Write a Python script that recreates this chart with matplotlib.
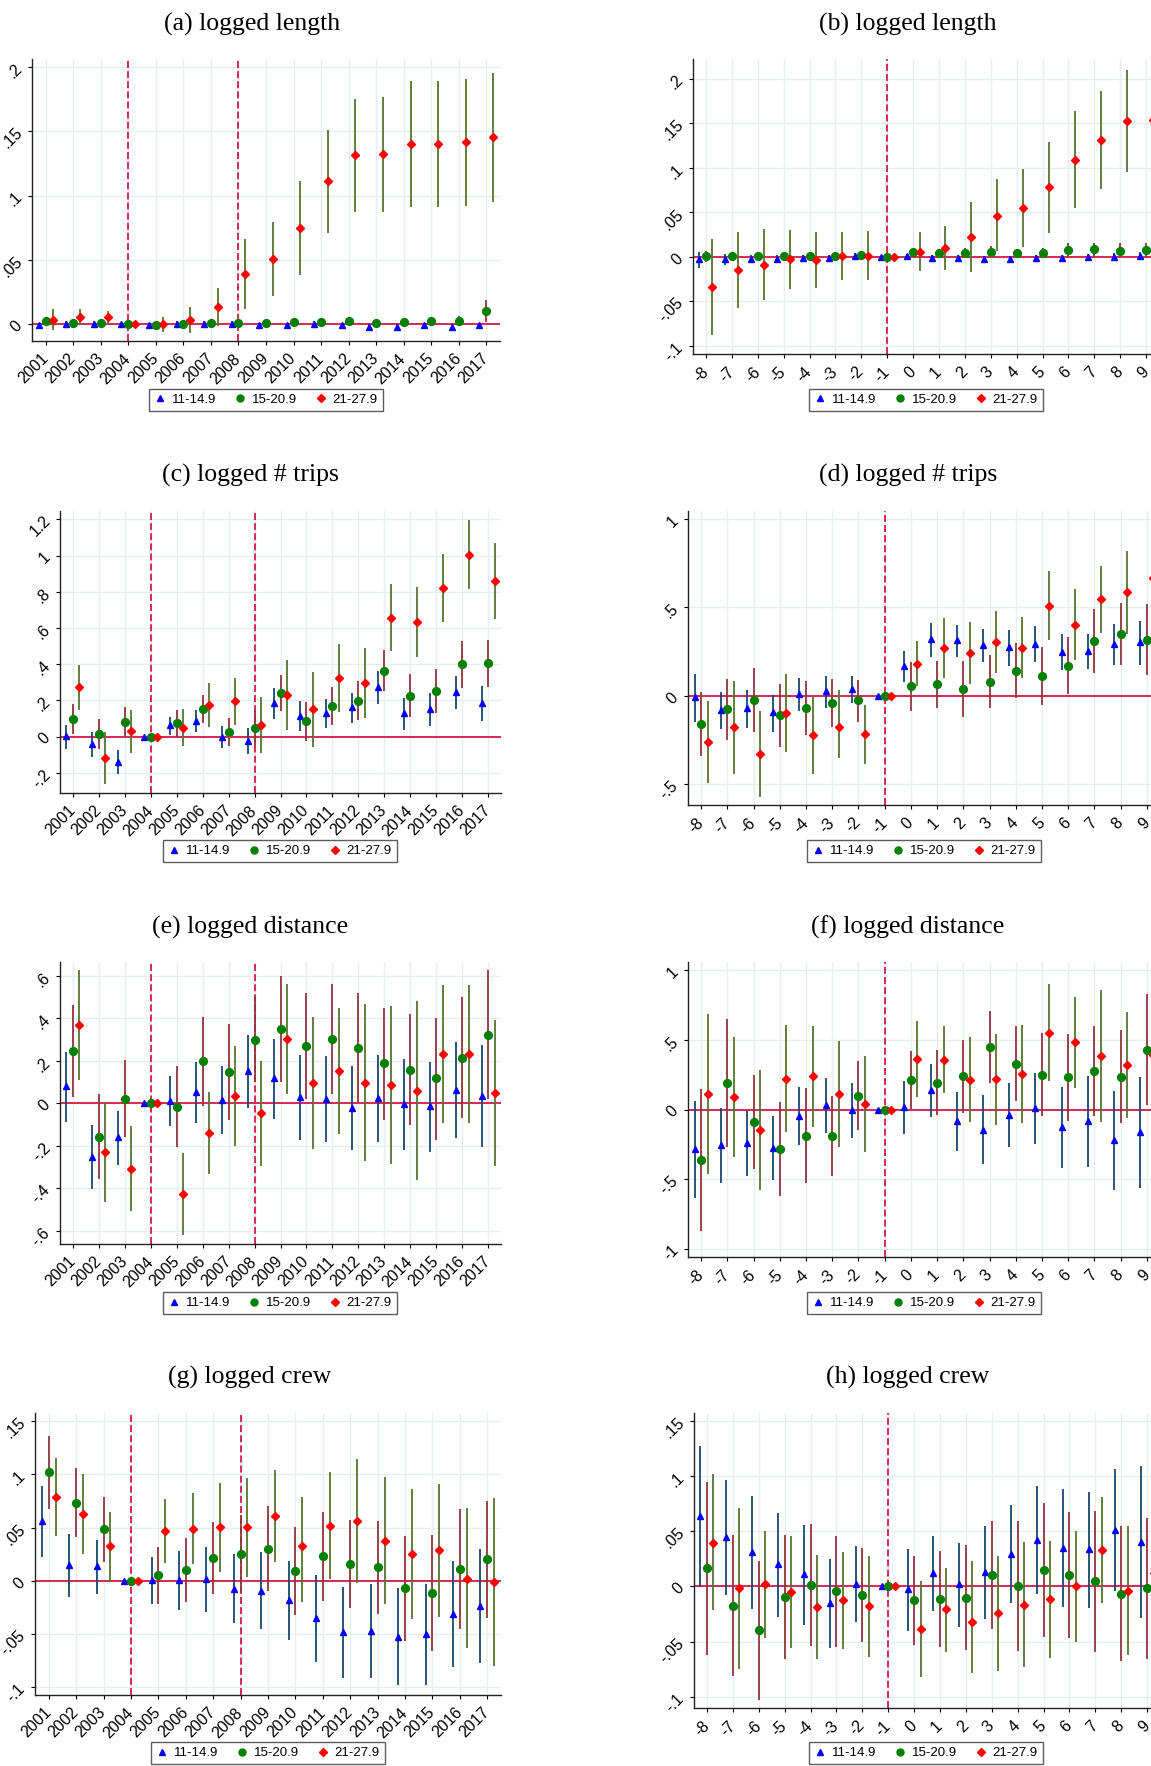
import numpy as np
import matplotlib
matplotlib.use("Agg")
import matplotlib.pyplot as plt
from matplotlib.ticker import FuncFormatter

plt.rcParams['font.family'] = ['Liberation Sans', 'DejaVu Sans']

# x axes
years = list(range(2001, 2018))
event = list(range(-8, 10))
year_labels = [str(y) for y in years]
event_labels = [str(e) for e in event]
series_names = ['11-14.9', '15-20.9', '21-27.9']

# (a) logged length, by year
a_s = [-0.001, 0.0, 0.0, 0.0, -0.001, 0.0, 0.0, 0.0, -0.001, -0.001, 0.0, -0.001, -0.002, -0.002, -0.001, -0.002, -0.001]
a_s_lo = [-0.003, -0.002, -0.002, 0.0, -0.003, -0.002, -0.002, -0.002, -0.003, -0.003, -0.002, -0.003, -0.004, -0.004, -0.003, -0.004, -0.003]
a_s_hi = [0.001, 0.002, 0.002, 0.0, 0.001, 0.002, 0.002, 0.002, 0.001, 0.001, 0.002, 0.001, 0.0, 0.0, 0.001, 0.0, 0.001]
a_m = [0.002, 0.0005, 0.001, 0.0, -0.001, 0.0, 0.001, 0.001, 0.001, 0.0015, 0.0015, 0.002, 0.0005, 0.0015, 0.002, 0.0025, 0.010]
a_m_lo = [-0.001, -0.002, -0.002, 0.0, -0.004, -0.003, -0.002, -0.002, -0.002, -0.001, -0.001, -0.001, -0.002, -0.002, -0.001, -0.001, 0.0015]
a_m_hi = [0.005, 0.003, 0.004, 0.0, 0.002, 0.003, 0.004, 0.004, 0.004, 0.004, 0.004, 0.005, 0.003, 0.005, 0.005, 0.006, 0.0187]
a_l = [0.003, 0.0055, 0.0055, 0.0, -0.0003, 0.003, 0.0133, 0.039, 0.0504, 0.0748, 0.1109, 0.1312, 0.132, 0.1403, 0.1403, 0.1416, 0.1455]
a_l_lo = [-0.005, 0.0, 0.0005, 0.0, -0.006, -0.0068, -0.0013, 0.0114, 0.0218, 0.0382, 0.0712, 0.0873, 0.0868, 0.0914, 0.091, 0.0922, 0.0951]
a_l_hi = [0.0114, 0.0114, 0.010, 0.0, 0.0052, 0.0133, 0.028, 0.0665, 0.079, 0.1114, 0.1506, 0.1753, 0.177, 0.1894, 0.1894, 0.191, 0.1956]

# (b) logged length, event time
b_s = [-0.002, -0.002, -0.002, -0.002, -0.0015, -0.001, 0.001, 0.0, 0.0004, -0.001, -0.001, -0.002, -0.002, -0.001, -0.001, 0.0, 0.0, 0.001]
b_s_lo = [-0.012, -0.009, -0.006, -0.006, -0.005, -0.004, -0.002, 0.0, -0.003, -0.004, -0.004, -0.005, -0.005, -0.004, -0.004, -0.003, -0.004, -0.004]
b_s_hi = [0.0056, 0.003, 0.002, 0.002, 0.002, 0.002, 0.004, 0.0, 0.003, 0.002, 0.002, 0.001, 0.001, 0.002, 0.002, 0.003, 0.004, 0.005]
b_m = [0.0004, 0.0015, 0.0015, 0.0015, 0.001, 0.001, 0.002, 0.0, 0.005, 0.004, 0.0045, 0.006, 0.004, 0.004, 0.0075, 0.0086, 0.007, 0.008]
b_m_lo = [-0.006, -0.003, -0.003, -0.003, -0.003, -0.003, -0.002, 0.0, 0.0, -0.001, -0.001, 0.0, -0.001, -0.001, 0.0, 0.0, 0.0, 0.0]
b_m_hi = [0.007, 0.006, 0.006, 0.006, 0.005, 0.005, 0.006, 0.0, 0.010, 0.009, 0.010, 0.012, 0.009, 0.010, 0.015, 0.016, 0.015, 0.016]
b_l = [-0.0337, -0.0146, -0.0086, -0.0026, -0.0034, 0.001, 0.001, 0.0, 0.006, 0.010, 0.0225, 0.0464, 0.0547, 0.0779, 0.1086, 0.1311, 0.152, 0.154]
b_l_lo = [-0.0876, -0.0577, -0.048, -0.0356, -0.0345, -0.026, -0.026, 0.0, -0.016, -0.0146, -0.0165, 0.0064, 0.0105, 0.0273, 0.0543, 0.0764, 0.0948, 0.095]
b_l_hi = [0.0199, 0.028, 0.031, 0.0303, 0.0277, 0.028, 0.0288, 0.0, 0.0277, 0.0348, 0.0618, 0.0873, 0.0989, 0.1288, 0.1633, 0.1858, 0.2094, 0.213]

# (c) logged # trips, by year
c_s = [0.004, -0.042, -0.138, 0.0, 0.064, 0.088, -0.004, -0.022, 0.186, 0.116, 0.129, 0.162, 0.272, 0.131, 0.151, 0.247, 0.186]
c_s_lo = [-0.068, -0.112, -0.206, 0.0, 0.009, 0.026, -0.063, -0.094, 0.098, 0.029, 0.048, 0.077, 0.180, 0.039, 0.057, 0.153, 0.088]
c_s_hi = [0.066, 0.024, -0.075, 0.0, 0.109, 0.145, 0.061, 0.048, 0.27, 0.195, 0.208, 0.243, 0.361, 0.215, 0.239, 0.337, 0.28]
c_m = [0.099, 0.015, 0.083, 0.0, 0.074, 0.153, 0.028, 0.05, 0.241, 0.085, 0.167, 0.199, 0.364, 0.226, 0.252, 0.399, 0.405]
c_m_lo = [0.015, -0.07, 0.0, 0.0, 0.0, 0.074, -0.052, -0.05, 0.144, -0.024, 0.063, 0.09, 0.252, 0.109, 0.132, 0.269, 0.274]
c_m_hi = [0.182, 0.098, 0.162, 0.0, 0.145, 0.232, 0.105, 0.14, 0.339, 0.193, 0.272, 0.309, 0.477, 0.344, 0.372, 0.530, 0.535]
c_l = [0.272, -0.118, 0.031, 0.0, 0.05, 0.175, 0.197, 0.066, 0.232, 0.151, 0.324, 0.296, 0.657, 0.631, 0.822, 1.005, 0.859]
c_l_lo = [0.147, -0.263, -0.092, 0.0, -0.052, 0.053, 0.066, -0.088, 0.039, -0.057, 0.136, 0.101, 0.473, 0.44, 0.635, 0.813, 0.651]
c_l_hi = [0.396, 0.026, 0.149, 0.0, 0.151, 0.296, 0.326, 0.221, 0.425, 0.355, 0.512, 0.491, 0.845, 0.824, 1.01, 1.198, 1.067]

# (d) logged # trips, event time
d_s = [-0.009, -0.079, -0.071, -0.094, 0.011, 0.028, 0.039, 0.0, 0.169, 0.32, 0.314, 0.289, 0.276, 0.295, 0.25, 0.254, 0.293, 0.305]
d_s_lo = [-0.147, -0.188, -0.184, -0.203, -0.083, -0.066, -0.043, 0.0, 0.079, 0.222, 0.222, 0.194, 0.171, 0.19, 0.147, 0.15, 0.177, 0.177]
d_s_hi = [0.122, 0.023, 0.032, 0.006, 0.1, 0.115, 0.113, 0.0, 0.254, 0.41, 0.4, 0.378, 0.372, 0.395, 0.35, 0.35, 0.406, 0.423]
d_m = [-0.16, -0.075, -0.023, -0.111, -0.07, -0.039, -0.026, 0.0, 0.055, 0.066, 0.038, 0.081, 0.143, 0.113, 0.169, 0.308, 0.35, 0.318]
d_m_lo = [-0.342, -0.248, -0.203, -0.288, -0.224, -0.175, -0.145, 0.0, -0.083, -0.071, -0.118, -0.07, -0.013, -0.051, 0.008, 0.128, 0.173, 0.117]
d_m_hi = [0.023, 0.098, 0.158, 0.068, 0.085, 0.096, 0.09, 0.0, 0.192, 0.197, 0.195, 0.233, 0.299, 0.276, 0.335, 0.492, 0.523, 0.517]
d_l = [-0.261, -0.177, -0.329, -0.096, -0.224, -0.177, -0.214, 0.0, 0.182, 0.271, 0.242, 0.303, 0.273, 0.509, 0.402, 0.545, 0.586, 0.664]
d_l_lo = [-0.491, -0.442, -0.571, -0.32, -0.442, -0.353, -0.383, 0.0, 0.055, 0.103, 0.066, 0.128, 0.1, 0.314, 0.201, 0.357, 0.35, 0.46]
d_l_hi = [-0.028, 0.085, -0.083, 0.126, -0.004, 0.034, -0.051, 0.0, 0.31, 0.44, 0.419, 0.477, 0.447, 0.707, 0.603, 0.733, 0.821, 0.87]

# (e) logged distance, by year
e_s = [0.08, -0.251, -0.16, 0.0, 0.013, 0.053, 0.014, 0.152, 0.119, 0.03, 0.02, -0.02, 0.023, -0.003, -0.014, 0.063, 0.036]
e_s_lo = [-0.086, -0.404, -0.29, 0.0, -0.105, -0.091, -0.146, -0.023, -0.075, -0.172, -0.183, -0.219, -0.182, -0.219, -0.227, -0.164, -0.207]
e_s_hi = [0.241, -0.102, -0.036, 0.0, 0.128, 0.193, 0.174, 0.323, 0.304, 0.226, 0.221, 0.174, 0.226, 0.21, 0.196, 0.29, 0.276]
e_m = [0.246, -0.157, 0.022, 0.0, -0.016, 0.197, 0.147, 0.298, 0.349, 0.269, 0.302, 0.262, 0.188, 0.158, 0.117, 0.215, 0.323]
e_m_lo = [0.031, -0.354, -0.157, 0.0, -0.207, -0.013, -0.078, 0.1, 0.102, 0.022, 0.044, 0.005, -0.078, -0.102, -0.172, -0.067, 0.022]
e_m_hi = [0.46, 0.042, 0.204, 0.0, 0.175, 0.407, 0.373, 0.5, 0.6, 0.517, 0.559, 0.52, 0.449, 0.418, 0.403, 0.498, 0.626]
e_l = [0.366, -0.229, -0.307, 0.0, -0.428, -0.141, 0.036, -0.047, 0.302, 0.094, 0.152, 0.097, 0.086, 0.06, 0.232, 0.232, 0.05]
e_l_lo = [0.11, -0.465, -0.507, 0.0, -0.62, -0.334, -0.199, -0.294, 0.044, -0.216, -0.144, -0.269, -0.285, -0.36, -0.091, -0.091, -0.293]
e_l_hi = [0.626, 0.008, -0.106, 0.0, -0.232, 0.052, 0.271, 0.197, 0.561, 0.404, 0.449, 0.467, 0.459, 0.481, 0.554, 0.556, 0.392]

# (f) logged distance, event time
f_s = [-0.287, -0.258, -0.239, -0.28, -0.048, 0.031, -0.007, 0.0, 0.017, 0.139, -0.084, -0.144, -0.038, 0.01, -0.127, -0.086, -0.22, -0.165]
f_s_lo = [-0.636, -0.529, -0.481, -0.51, -0.256, -0.17, -0.208, 0.0, -0.175, -0.055, -0.297, -0.395, -0.273, -0.246, -0.421, -0.414, -0.581, -0.565]
f_s_hi = [0.06, 0.01, -0.01, -0.05, 0.16, 0.227, 0.189, 0.0, 0.203, 0.328, 0.127, 0.105, 0.194, 0.263, 0.163, 0.239, 0.136, 0.234]
f_m = [-0.364, 0.194, -0.091, -0.282, -0.189, -0.191, 0.1, 0.0, 0.211, 0.194, 0.239, 0.45, 0.33, 0.251, 0.23, 0.275, 0.234, 0.428]
f_m_lo = [-0.876, -0.268, -0.428, -0.62, -0.531, -0.478, -0.148, 0.0, 0.002, -0.036, -0.022, 0.189, 0.06, -0.048, -0.084, -0.05, -0.098, 0.029]
f_m_hi = [0.146, 0.653, 0.246, 0.055, 0.156, 0.098, 0.349, 0.0, 0.421, 0.426, 0.502, 0.711, 0.6, 0.55, 0.541, 0.6, 0.572, 0.828]
f_l = [0.11, 0.091, -0.144, 0.218, 0.239, 0.11, 0.038, 0.0, 0.364, 0.359, 0.215, 0.218, 0.254, 0.553, 0.486, 0.383, 0.321, 0.39]
f_l_lo = [-0.464, -0.344, -0.577, -0.165, -0.124, -0.273, -0.306, 0.0, 0.093, 0.117, -0.089, -0.108, -0.098, 0.203, 0.158, -0.093, -0.06, 0.0]
f_l_hi = [0.684, 0.524, 0.287, 0.605, 0.603, 0.493, 0.385, 0.0, 0.636, 0.603, 0.522, 0.543, 0.605, 0.9, 0.811, 0.859, 0.703, 0.78]

# (g) logged crew, by year
g_s = [0.0561, 0.015, 0.0141, 0.0, 0.0006, 0.0006, 0.0013, -0.0072, -0.0091, -0.0182, -0.0348, -0.0483, -0.0467, -0.0524, -0.0502, -0.031, -0.0235]
g_s_lo = [0.0223, -0.0147, -0.0119, 0.0, -0.0219, -0.0276, -0.0295, -0.0398, -0.0455, -0.0552, -0.0759, -0.0909, -0.0915, -0.0981, -0.0978, -0.0806, -0.0768]
g_s_hi = [0.0887, 0.0439, 0.0386, 0.0, 0.0223, 0.0276, 0.0317, 0.0254, 0.027, 0.0188, 0.0056, -0.006, -0.0028, -0.0066, -0.0034, 0.0188, 0.0298]
g_m = [0.1019, 0.073, 0.0483, 0.0, 0.0053, 0.0103, 0.0216, 0.0248, 0.0301, 0.0091, 0.0232, 0.016, 0.0129, -0.0066, -0.0113, 0.0113, 0.0201]
g_m_lo = [0.0677, 0.0411, 0.0179, 0.0, -0.0213, -0.0197, -0.0119, -0.0116, -0.0097, -0.032, -0.0185, -0.0254, -0.031, -0.0561, -0.0655, -0.0455, -0.0351]
g_m_hi = [0.1364, 0.1056, 0.0787, 0.0, 0.032, 0.0404, 0.0555, 0.0621, 0.0702, 0.0502, 0.0646, 0.0574, 0.0567, 0.0426, 0.0433, 0.0677, 0.0752]
g_l = [0.079, 0.063, 0.0323, 0.0, 0.0473, 0.0492, 0.0508, 0.0502, 0.0605, 0.0332, 0.0517, 0.0561, 0.0379, 0.0254, 0.0288, 0.0022, -0.0013]
g_l_lo = [0.0423, 0.0257, -0.0006, 0.0, 0.0172, 0.0157, 0.0088, 0.0034, 0.0176, -0.0194, 0.0019, -0.0016, -0.0219, -0.0354, -0.0335, -0.0633, -0.0799]
g_l_hi = [0.1154, 0.1, 0.0649, 0.0, 0.0771, 0.0824, 0.0922, 0.0969, 0.1041, 0.0784, 0.1025, 0.1141, 0.0975, 0.0865, 0.0909, 0.0683, 0.0777]

# (h) logged crew, event time
h_s = [0.0637, 0.0444, 0.0308, 0.0199, 0.0109, -0.0148, 0.0024, 0.0, -0.0027, 0.0118, 0.0021, 0.0133, 0.0296, 0.0423, 0.035, 0.0335, 0.0514, 0.0405]
h_s_lo = [-0.0009, -0.0079, -0.0205, -0.0278, -0.035, -0.0556, -0.0323, 0.0, -0.0402, -0.0224, -0.0366, -0.0293, -0.0148, -0.0073, -0.019, -0.0199, -0.0042, -0.0287]
h_s_hi = [0.1272, 0.0958, 0.0816, 0.0668, 0.0556, 0.0251, 0.0363, 0.0, 0.0341, 0.0453, 0.0396, 0.0544, 0.0737, 0.0909, 0.0885, 0.0858, 0.1063, 0.1085]
h_m = [0.0163, -0.0175, -0.0399, -0.0094, 0.0012, -0.0045, -0.0076, 0.0, -0.0124, -0.0115, -0.0103, 0.0103, 0.0006, 0.0145, 0.0103, 0.0045, -0.0066, -0.0018]
h_m_lo = [-0.0622, -0.0813, -0.1024, -0.0656, -0.0535, -0.0547, -0.0502, 0.0, -0.0526, -0.055, -0.0574, -0.0384, -0.058, -0.0459, -0.0465, -0.0595, -0.0677, -0.0653]
h_m_hi = [0.0946, 0.0462, 0.0227, 0.0468, 0.0562, 0.0456, 0.035, 0.0, 0.0278, 0.0317, 0.0372, 0.0589, 0.0589, 0.0752, 0.0671, 0.0686, 0.0544, 0.0616]
h_l = [0.0393, -0.0018, 0.0021, -0.0051, -0.019, -0.0127, -0.0178, 0.0, -0.0384, -0.0208, -0.032, -0.0245, -0.0166, -0.0118, 0.0, 0.0326, -0.0039, 0.012]
h_l_lo = [-0.0218, -0.0746, -0.0465, -0.0559, -0.0659, -0.0565, -0.0637, 0.0, -0.0819, -0.0592, -0.0785, -0.0767, -0.0731, -0.065, -0.0502, -0.0154, -0.0625, -0.05]
h_l_hi = [0.1012, 0.0707, 0.0505, 0.0453, 0.0281, 0.0311, 0.0278, 0.0, 0.0045, 0.0169, 0.023, 0.0275, 0.0399, 0.0414, 0.0502, 0.0804, 0.055, 0.07]

# y tick values per panel
yt_len_yr = [0, 0.05, 0.1, 0.15, 0.2]
yt_len_ev = [-0.1, -0.05, 0, 0.05, 0.1, 0.15, 0.2]
yt_trip_yr = [-0.2, 0, 0.2, 0.4, 0.6, 0.8, 1.0, 1.2]
yt_trip_ev = [-0.5, 0, 0.5, 1.0]
yt_dist_yr = [-0.6, -0.4, -0.2, 0, 0.2, 0.4, 0.6]
yt_dist_ev = [-1.0, -0.5, 0, 0.5, 1.0]
yt_crew = [-0.1, -0.05, 0, 0.05, 0.1, 0.15]

W, H = 1151, 1766
fig = plt.figure(figsize=(W / 100, H / 100), dpi=100)

MARK = [('^', '#0000ff', 5.0), ('o', '#008000', 5.6), ('D', '#ff0000', 4.0)]
BAR = ['#1a476f', '#90353b', '#55752f']
OFFS = [-0.25, 0.0, 0.25]
GRID = '#e6eef0'
REF = '#d42a55'


def stata_fmt(v, pos=None):
    v = round(v, 6)
    if abs(v) < 1e-9:
        return '0'
    s = '%g' % v
    if s.startswith('0.'):
        s = s[1:]
    elif s.startswith('-0.'):
        s = '-' + s[2:]
    return s


def panel(box, title, title_xy, x, xlabels, xlim, ylim, yticks, series, vlines, leg_xy):
    l, r, t, b = box
    ax = fig.add_axes([l / W, 1 - b / H, (r - l) / W, (b - t) / H])
    handles = []
    for (coef, lo, hi), off, (mk, mc, ms), bc, name in zip(series, OFFS, MARK, BAR, series_names):
        xs = np.asarray(x, dtype=float) + off
        ax.vlines(xs, lo, hi, color=bc, lw=1.3, zorder=3)
        h, = ax.plot(xs, coef, ls='none', marker=mk, color=mc, ms=ms, zorder=4,
                     clip_on=True, label=name)
        handles.append(h)
    ax.axhline(0, color=REF, lw=1.4, zorder=2)
    for v in vlines:
        ax.axvline(v, color=REF, lw=1.4, ls=(0, (3.6, 1.6)), zorder=2)
    ax.set_xlim(*xlim)
    ax.set_ylim(*ylim)
    ax.set_xticks(x)
    ax.set_xticklabels(xlabels, rotation=45, ha='right', va='center',
                       rotation_mode='anchor', fontsize=11.5)
    ax.set_yticks(yticks)
    ax.yaxis.set_major_formatter(FuncFormatter(stata_fmt))
    ax.tick_params(axis='y', labelrotation=45, labelsize=11.5, length=3, pad=2)
    ax.tick_params(axis='x', length=3, pad=8)
    ax.grid(True, color=GRID, lw=1.0, zorder=0)
    ax.set_axisbelow(True)
    for s in ['top', 'right']:
        ax.spines[s].set_visible(False)
    for s in ['left', 'bottom']:
        ax.spines[s].set_color('#222222')
        ax.spines[s].set_linewidth(1.0)
    fig.text(title_xy[0] / W, 1 - title_xy[1] / H, title, ha='center', va='center',
             fontsize=18.5, family=['Liberation Serif', 'DejaVu Serif'])
    leg = fig.legend(handles=handles, loc='center', ncol=3,
                     bbox_to_anchor=(leg_xy[0] / W, 1 - leg_xy[1] / H),
                     fontsize=9.5, frameon=True, fancybox=False, edgecolor='#333333',
                     handlelength=0.8, handletextpad=0.5, columnspacing=1.4,
                     borderpad=0.4, markerscale=0.9)
    leg.get_frame().set_linewidth(1.0)
    return ax


yr_lim = (2000.5, 2017.5)
ev_lim = (-8.5, 9.5)

panel((32, 500, 59, 341), '(a) logged length', (252, 24), years, year_labels, yr_lim,
      (-0.0132, 0.2062), yt_len_yr,
      [(a_s, a_s_lo, a_s_hi), (a_m, a_m_lo, a_m_hi), (a_l, a_l_lo, a_l_hi)],
      [2004, 2008], (266, 400))
panel((693, 1159, 59, 354), '(b) logged length', (908, 24), event, event_labels, ev_lim,
      (-0.109, 0.222), yt_len_ev,
      [(b_s, b_s_lo, b_s_hi), (b_m, b_m_lo, b_m_hi), (b_l, b_l_lo, b_l_hi)],
      [-1], (926, 400))
panel((60, 501, 511, 793), '(c) logged # trips', (250, 475), years, year_labels, yr_lim,
      (-0.311, 1.246), yt_trip_yr,
      [(c_s, c_s_lo, c_s_hi), (c_m, c_m_lo, c_m_hi), (c_l, c_l_lo, c_l_hi)],
      [2004, 2008], (280, 851))
panel((688, 1160, 511, 805), '(d) logged # trips', (908, 475), event, event_labels, ev_lim,
      (-0.617, 1.045), yt_trip_ev,
      [(d_s, d_s_lo, d_s_hi), (d_m, d_m_lo, d_m_hi), (d_l, d_l_lo, d_l_hi)],
      [-1], (924, 851))
panel((60, 501, 962, 1244), '(e) logged distance', (250, 927), years, year_labels, yr_lim,
      (-0.661, 0.664), yt_dist_yr,
      [(e_s, e_s_lo, e_s_hi), (e_m, e_m_lo, e_m_hi), (e_l, e_l_lo, e_l_hi)],
      [2004, 2008], (280, 1303))
panel((688, 1160, 962, 1257), '(f) logged distance', (908, 927), event, event_labels, ev_lim,
      (-1.06, 1.06), yt_dist_ev,
      [(f_s, f_s_lo, f_s_hi), (f_m, f_m_lo, f_m_hi), (f_l, f_l_lo, f_l_hi)],
      [-1], (924, 1303))
panel((35, 501, 1413, 1695), '(g) logged crew', (250, 1377), years, year_labels, yr_lim,
      (-0.1072, 0.1577), yt_crew,
      [(g_s, g_s_lo, g_s_hi), (g_m, g_m_lo, g_m_hi), (g_l, g_l_lo, g_l_hi)],
      [2004, 2008], (268, 1753))
panel((694, 1160, 1413, 1708), '(h) logged crew', (908, 1377), event, event_labels, ev_lim,
      (-0.11, 0.1568), yt_crew,
      [(h_s, h_s_lo, h_s_hi), (h_m, h_m_lo, h_m_hi), (h_l, h_l_lo, h_l_hi)],
      [-1], (926, 1753))

fig.savefig('out.png', dpi=100, facecolor='white')
